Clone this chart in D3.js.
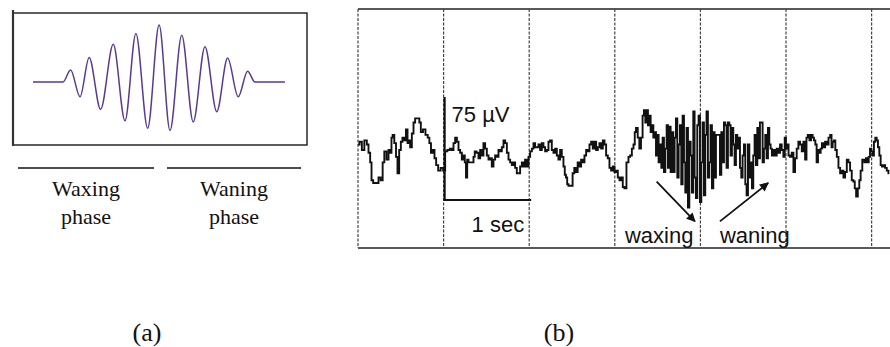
<!DOCTYPE html>
<html>
<head>
<meta charset="utf-8">
<script src="https://cdn.jsdelivr.net/npm/d3@7"></script>
<style>
  html, body { margin: 0; padding: 0; background: #fff; }
  svg { display: block; }
</style>
</head>
<body>
<svg id="fig" width="890" height="347"></svg>
<script>
// ---------- (a) schematic spindle: extrema of the waveform ----------
// position in % of the window width, amplitude normalised to the largest peak
const spindlePos = [6.8, 17.0, 19.6, 22.8, 25.9, 29.8, 34.1, 38.1, 41.8, 45.8, 49.7,
                    53.4, 57.4, 61.3, 65.3, 69.3, 73.0, 76.6, 79.8, 82.3, 92.5];
const spindleAmp = [0, 0, 0.21, -0.26, 0.43, -0.48, 0.66, -0.68, 0.85, -0.81, 1.0,
                    -0.85, 0.82, -0.70, 0.62, -0.52, 0.42, -0.26, 0.19, 0, 0];
const phaseNames = ["Waxing", "Waning"];
const phaseWord = "phase";

// ---------- (b) scalp EEG trace ----------
const eegTimeMs = [
  0, 35, 55, 93, 113, 132, 152, 164, 190, 230, 249, 280, 296, 319, 347, 366, 385, 397, 412, 436,
  452, 471, 491, 510, 529, 552, 569, 588, 599, 619, 639, 658, 677, 709, 724, 744, 774, 802, 826, 841,
  864, 884, 903, 923, 950, 981, 1008,
  1028, 1059, 1086, 1106, 1125, 1145, 1165, 1183, 1203, 1223, 1242, 1253, 1270, 1281, 1300, 1320, 1340, 1358,
  1370, 1398, 1417, 1437, 1456, 1475, 1495, 1515, 1534, 1553, 1573, 1592, 1612, 1632, 1650, 1670, 1690, 1709,
  1729, 1749, 1767, 1787, 1807, 1826, 1845, 1865, 1884, 1904, 1924, 1942, 1962, 1982, 2001, 2021, 2041, 2059, 2079,
  2099, 2118, 2137, 2157, 2176, 2196, 2216, 2234, 2254, 2274, 2293, 2313, 2332, 2351, 2371, 2390, 2410, 2421,
  2438, 2449, 2468, 2499, 2515, 2538, 2554, 2578, 2597, 2616, 2636, 2655, 2675, 2695, 2713, 2733, 2753, 2772,
  2792, 2811, 2830, 2850, 2870, 2889, 2908, 2928, 2947, 2967, 2987, 3005, 3025, 3045, 3064, 3083, 3103, 3122,
  3150, 3169, 3189, 3209, 3227, 3239, 3256, 3279, 3294, 3317, 3332, 3349, 3364, 3379, 3395, 3411, 3426, 3442,
  3458, 3473, 3489, 3504, 3519, 3536, 3551, 3566, 3582, 3598, 3613, 3629, 3644, 3660, 3675, 3691, 3706, 3722,
  3738, 3753, 3769, 3784, 3800, 3816, 3831, 3846, 3863, 3878, 3893, 3909, 3924, 3940, 3956, 3971, 3986, 4003,
  4018, 4033, 4049, 4064, 4079, 4096, 4111, 4126, 4143, 4158, 4173, 4190,
  4220, 4236, 4252, 4267, 4283, 4298, 4313, 4330, 4345, 4360, 4376, 4392, 4407, 4423, 4438, 4454, 4470, 4485,
  4500, 4517, 4532, 4547, 4564, 4579, 4594, 4610, 4625, 4641, 4657, 4672, 4687, 4704, 4719, 4734, 4750, 4765,
  4781, 4797, 4812, 4827, 4843, 4862, 4882, 4901, 4920, 4940, 4959, 4979, 4991, 5007, 5022, 5037, 5057, 5077,
  5096, 5115, 5135, 5154, 5174, 5194, 5213, 5233, 5245,
  5264, 5283, 5303, 5318, 5335, 5350, 5365, 5382, 5397, 5412, 5428, 5447, 5467, 5487, 5506, 5526, 5537, 5552,
  5568, 5584, 5603, 5622, 5642, 5662, 5680, 5700, 5720, 5739, 5758, 5778, 5797, 5809, 5829, 5848, 5864, 5879,
  5903, 5926, 5942, 5958, 5973, 5989, 6004, 6019, 6035, 6051, 6066, 6082, 6098, 6113, 6129, 6148, 6167, 6187, 6206
];
const eegMicroV = [
  4, 6, 0, 7, 4, -2, -9, -22, -24, -24, -20, -22, -9, -1, -7, 0, -2, 9, 11, 5,
  -5, -17, 0, 6, 9, 7, 15, 5, 7, 2, 12, 20, 23, 23, 20, 13, 15, 11, 9, 5,
  -2, 0, -6, -11, -15, -13, -15,
  -1, 0, 1, 0, 5, 9, 6, 0, -2, -7, -4, -9, -20, -7, -9, -9, -9, -5,
  -1, -2, -6, 0, -4, 5, 1, -4, -7, -6, -12, -7, -4, -5, 0, -1, 2, 7,
  5, -2, -7, -9, -11, -9, -13, -17, -17, -12, -9, -12, -7, -12, -5, -1, 1, 5, 2,
  2, 4, 0, 5, 2, -1, 0, 6, 7, 0, -2, 1, -4, -7, 0, -5, -12, -18,
  -20, -25, -26, -26, -17, -13, -16, -9, -12, -7, -9, -4, 0, -1, 4, 6, 1, 6,
  0, 2, 5, 1, 7, 4, -4, -6, -13, -15, -12, -16, -15, -20, -22, -20, -27, -28,
  -9, -5, -4, 1, 4, 13, 16, 9, 1, 9, 25, 29, 20, 29, 18, 25, 13, 18,
  9, 13, -4, 11, -9, 4, -13, 9, -16, 1, 18, -13, 17, -16, 13, -16, 9, 23,
  -20, 4, 18, -25, 25, -9, -31, 16, -42, 6, -4, -31, 28, -20, -35, 18, 25, -38,
  -9, 20, -33, 11, 28, -20, -9, 18, -28, 13, -20, 11,
  11, -18, 13, -9, 20, 18, -13, 20, 18, -4, 16, 4, -11, 11, 1, 9, -13, -20,
  -4, 4, -25, -33, 4, -20, -9, -28, -4, 11, -11, 16, -6, 20, 20, -9, 1, 11,
  -6, 16, 4, 1, -4, 0, -4, 1, -2, 4, 0, -5, 9, 1, 4, -4, -5, -2,
  -16, -6, 1, 6, 4, -1, 6, -7, 9,
  11, 7, 11, 9, 7, 4, -9, 0, -2, 1, 5, 2, 6, 4, 9, 11, 2, 6,
  7, 0, -5, -13, -17, -15, -20, -16, -7, -9, -15, -22, -23, -28, -34, -28, -22, -15,
  -7, -9, -6, -9, -5, 1, -1, -4, 6, 9, 7, 2, -4, -11, -12, -11, -13, -15, -17
];
const gridSeconds = [0, 1, 2, 3, 4, 5, 6];
const scaleBar = { startMs: 1000, lengthMs: 1000, baseMicroV: -36.4, heightMicroV: 75 };
const scaleLabels = ["75 µV", "1 sec"];
const phaseTags = ["waxing", "waning"];
const panelLabels = ["(a)", "(b)"];

const svg = d3.select("#fig");
const serif = "'Liberation Serif', 'Times New Roman', serif";
const sans = "'Liberation Sans', Arial, sans-serif";

// ================= panel (a) =================
const boxA = { left: 13, right: 307, top: 13, bottom: 145 };
const xA = d3.scaleLinear().domain([0, 100]).range([boxA.left, boxA.right]);
const yA = d3.scaleLinear().domain([-1.105, 1.21]).range([boxA.bottom, boxA.top]);

const gA = svg.append("g");
gA.append("rect")
  .attr("x", boxA.left).attr("y", boxA.top)
  .attr("width", boxA.right - boxA.left).attr("height", boxA.bottom - boxA.top)
  .attr("fill", "none").attr("stroke", "#1a1a1a").attr("stroke-width", 1.4);
gA.append("line")
  .attr("x1", boxA.left).attr("x2", boxA.left)
  .attr("y1", boxA.top - 3).attr("y2", boxA.bottom + 1)
  .attr("stroke", "#333").attr("stroke-width", 2.2);

const spindle = d3.range(spindlePos.length).map(i => [spindlePos[i], spindleAmp[i]]);
gA.append("path")
  .datum(spindle)
  .attr("fill", "none")
  .attr("stroke", "#5a3a8e")
  .attr("stroke-width", 1.5)
  .attr("d", d3.line().x(d => xA(d[0])).y(d => yA(d[1])).curve(d3.curveMonotoneX));

// phase bars and captions under the schematic
const phaseBars = [[18, 154], [167, 301]];
phaseBars.forEach((b, i) => {
  const cx = (b[0] + b[1]) / 2;
  gA.append("line").attr("x1", b[0]).attr("x2", b[1]).attr("y1", 168).attr("y2", 168)
    .attr("stroke", "#111").attr("stroke-width", 1.3);
  gA.append("text").attr("x", cx).attr("y", 196).attr("text-anchor", "middle")
    .attr("font-family", serif).attr("font-size", 22).attr("fill", "#111").text(phaseNames[i]);
  gA.append("text").attr("x", cx).attr("y", 224).attr("text-anchor", "middle")
    .attr("font-family", serif).attr("font-size", 22).attr("fill", "#111").text(phaseWord);
});

// ================= panel (b) =================
const xB = d3.scaleLinear().domain([0, 6210]).range([358, 889.6]);
const yB = d3.scaleLinear().domain([-71.4, 102.7]).range([248, 9]);
const gB = svg.append("g");

// frame: solid top and bottom, dotted one-second grid
gB.append("line").attr("x1", xB(0)).attr("x2", 890).attr("y1", yB(102.7)).attr("y2", yB(102.7))
  .attr("stroke", "#222").attr("stroke-width", 1.5);
gB.append("line").attr("x1", xB(0)).attr("x2", 890).attr("y1", yB(-71.4)).attr("y2", yB(-71.4))
  .attr("stroke", "#222").attr("stroke-width", 1.5);
gB.selectAll("line.grid").data(gridSeconds).enter().append("line")
  .attr("class", "grid")
  .attr("x1", d => xB(d * 1000)).attr("x2", d => xB(d * 1000))
  .attr("y1", yB(102.7)).attr("y2", yB(-71.4))
  .attr("stroke", "#444").attr("stroke-width", 1.2).attr("stroke-dasharray", "3,1.5");

// EEG trace
const eeg = d3.range(eegTimeMs.length).map(i => [eegTimeMs[i], eegMicroV[i]]);
gB.append("path")
  .datum(eeg)
  .attr("fill", "none")
  .attr("stroke", "#111")
  .attr("stroke-width", 1.9)
  .attr("stroke-linejoin", "miter")
  .attr("d", d3.line().x(d => xB(d[0])).y(d => yB(d[1])).curve(d3.curveStep));

// calibration bars
const sbX0 = xB(scaleBar.startMs), sbX1 = xB(scaleBar.startMs + scaleBar.lengthMs);
const sbY0 = yB(scaleBar.baseMicroV), sbY1 = yB(scaleBar.baseMicroV + scaleBar.heightMicroV);
gB.append("line").attr("x1", sbX0 + 1).attr("x2", sbX0 + 1).attr("y1", sbY1).attr("y2", sbY0)
  .attr("stroke", "#111").attr("stroke-width", 2.2);
gB.append("line").attr("x1", sbX0).attr("x2", sbX1 + 2).attr("y1", sbY0).attr("y2", sbY0)
  .attr("stroke", "#111").attr("stroke-width", 2);
gB.append("text").attr("x", sbX0 + 8).attr("y", 122)
  .attr("font-family", sans).attr("font-size", 22).attr("fill", "#111").text(scaleLabels[0]);
gB.append("text").attr("x", sbX0 + 28).attr("y", 232)
  .attr("font-family", sans).attr("font-size", 22).attr("fill", "#111").text(scaleLabels[1]);

// waxing / waning arrows
svg.append("defs").append("marker")
  .attr("id", "head").attr("viewBox", "0 0 10 10").attr("refX", 9).attr("refY", 5)
  .attr("markerWidth", 11).attr("markerHeight", 9).attr("markerUnits", "userSpaceOnUse")
  .attr("orient", "auto")
  .append("path").attr("d", "M0,0 L10,5 L0,10 Z").attr("fill", "#111");
const arrows = [
  { from: [3489, -23], to: [3936, -52] },
  { from: [4228, -52], to: [4792, -24] }
];
gB.selectAll("line.arrow").data(arrows).enter().append("line")
  .attr("class", "arrow")
  .attr("x1", d => xB(d.from[0])).attr("y1", d => yB(d.from[1]))
  .attr("x2", d => xB(d.to[0])).attr("y2", d => yB(d.to[1]))
  .attr("stroke", "#111").attr("stroke-width", 1.8).attr("marker-end", "url(#head)");
const tagX = [3119, 4228];
phaseTags.forEach((t, i) => {
  gB.append("text").attr("x", xB(tagX[i])).attr("y", 243)
    .attr("font-family", sans).attr("font-size", 22).attr("fill", "#111").text(t);
});

// panel letters
const panelCx = [147, 559];
panelLabels.forEach((t, i) => {
  svg.append("text").attr("x", panelCx[i]).attr("y", 341).attr("text-anchor", "middle")
    .attr("font-family", serif).attr("font-size", 26).attr("fill", "#111").text(t);
});
</script>
</body>
</html>
